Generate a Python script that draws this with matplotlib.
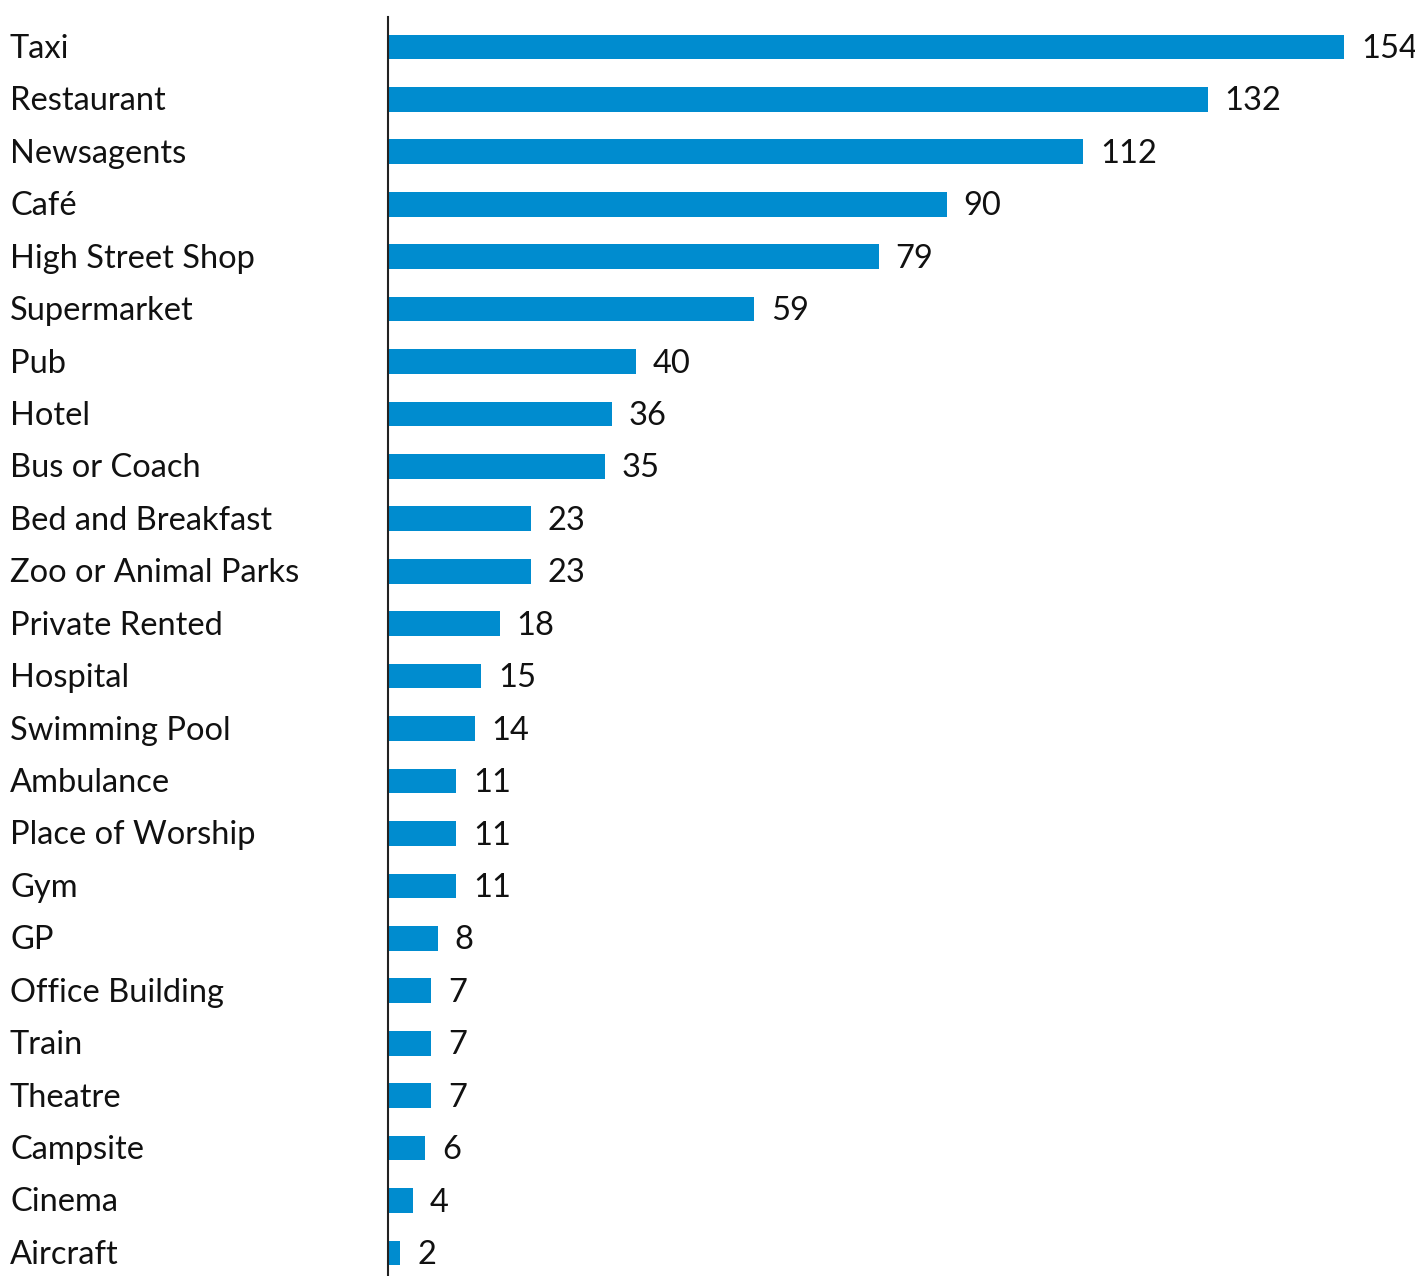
import matplotlib.pyplot as plt
from matplotlib.transforms import blended_transform_factory, offset_copy

categories = ["Taxi", "Restaurant", "Newsagents", "Café", "High Street Shop", "Supermarket",
              "Pub", "Hotel", "Bus or Coach", "Bed and Breakfast", "Zoo or Animal Parks",
              "Private Rented", "Hospital", "Swimming Pool", "Ambulance", "Place of Worship",
              "Gym", "GP", "Office Building", "Train", "Theatre", "Campsite", "Cinema", "Aircraft"]
values = [154, 132, 112, 90, 79, 59, 40, 36, 35, 23, 23, 18, 15, 14, 11, 11, 11, 8, 7, 7, 7, 6, 4, 2]

BAR_COLOR = "#008CCF"
FONT = "Lato"

fig = plt.figure(figsize=(14.15, 12.76), dpi=100)
ax = fig.add_axes([388 / 1415, 0, 1 - 388 / 1415, 1 - 17 / 1276])

y = list(range(len(categories)))
ax.barh(y, values, height=0.47, color=BAR_COLOR)
ax.set_xlim(0, 165.4)
ax.set_ylim(23.44, -0.57)

for s in ["top", "right", "bottom"]:
    ax.spines[s].set_visible(False)
ax.spines["left"].set_linewidth(1.5)
ax.spines["left"].set_color("#222222")
ax.set_xticks([])
ax.set_yticks([])

# category labels at left edge of figure
trans = offset_copy(blended_transform_factory(fig.transFigure, ax.transData),
                    fig=fig, x=0, y=-2, units="dots")
for yi, cat in zip(y, categories):
    ax.text(10 / 1415, yi, cat, transform=trans, ha="left", va="center",
            fontsize=23.5, family=FONT, color="#111111")

# value labels
val_trans = offset_copy(ax.transData, fig=fig, x=12, y=-1.5, units="points")
for yi, v in zip(y, values):
    ax.text(v, yi, str(v), transform=val_trans, ha="left", va="center",
            fontsize=23.5, family=FONT, color="#111111")

fig.savefig("out.png", dpi=100)
